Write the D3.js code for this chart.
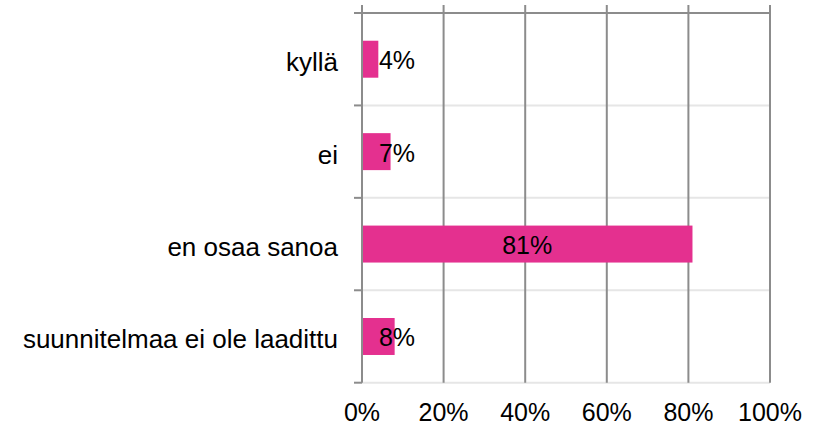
<!DOCTYPE html>
<html>
<head>
<meta charset="utf-8">
<script src="https://cdn.jsdelivr.net/npm/d3@7"></script>
<style>
  body { margin: 0; background: #fff; }
  text { font-family: 'Liberation Sans', Arial, sans-serif; fill: #000; }
</style>
</head>
<body>
<div id="chart"></div>
<script>
// data
const categories = ['kyllä', 'ei', 'en osaa sanoa', 'suunnitelmaa ei ole laadittu'];
const values = [4, 7, 81, 8];
const ticks = [0, 20, 40, 60, 80, 100];

const width = 820;
const height = 426;
const plot = { left: 362, right: 770, top: 13, bottom: 382.7 };
const pink = '#e4308f';

const svg = d3.select('#chart').append('svg')
  .attr('width', width)
  .attr('height', height);

const x = d3.scaleLinear()
  .domain([0, 100])
  .range([plot.left, plot.right]);

const y = d3.scaleBand()
  .domain(categories)
  .range([plot.top, plot.bottom])
  .paddingInner(0.6)
  .paddingOuter(0.3);

// band borders (light separators)
const borders = d3.range(categories.length + 1).map((i) => plot.top + i * y.step());

svg.append('g').selectAll('line')
  .data(borders.slice(1))
  .join('line')
  .attr('x1', plot.left)
  .attr('x2', plot.right)
  .attr('y1', (d) => d)
  .attr('y2', (d) => d)
  .attr('stroke', '#e6e6e6')
  .attr('stroke-width', 2);

// vertical grid
svg.append('g').selectAll('line')
  .data(ticks)
  .join('line')
  .attr('x1', (d) => x(d))
  .attr('x2', (d) => x(d))
  .attr('y1', 5)
  .attr('y2', plot.bottom)
  .attr('stroke', '#8c8c8c')
  .attr('stroke-width', 2);

// top line
svg.append('line')
  .attr('x1', plot.left - 8)
  .attr('x2', plot.right)
  .attr('y1', plot.top)
  .attr('y2', plot.top)
  .attr('stroke', '#8c8c8c')
  .attr('stroke-width', 2);

// small ticks left of the axis
svg.append('g').selectAll('line')
  .data(borders)
  .join('line')
  .attr('x1', plot.left - 8)
  .attr('x2', plot.left)
  .attr('y1', (d) => d)
  .attr('y2', (d) => d)
  .attr('stroke', '#8c8c8c')
  .attr('stroke-width', 2);

// bars
svg.append('g').selectAll('rect')
  .data(values)
  .join('rect')
  .attr('x', x(0) + 1)
  .attr('y', (d, i) => y(categories[i]))
  .attr('width', (d) => x(d) - x(0) - 1)
  .attr('height', y.bandwidth())
  .attr('fill', pink);

// value labels
svg.append('g').selectAll('text')
  .data(values)
  .join('text')
  .attr('x', (d) => Math.max(x(d / 2), x(0) + 35))
  .attr('y', (d, i) => y(categories[i]) + y.bandwidth() / 2)
  .attr('dy', '0.4em')
  .attr('text-anchor', 'middle')
  .style('font-size', '25px')
  .text((d) => `${d}%`);

// category labels
svg.append('g').selectAll('text')
  .data(categories)
  .join('text')
  .attr('x', 338)
  .attr('y', (d) => y(d) + y.bandwidth() / 2)
  .attr('dy', '0.46em')
  .attr('text-anchor', 'end')
  .style('font-size', '26px')
  .text((d) => d);

// x tick labels
svg.append('g').selectAll('text')
  .data(ticks)
  .join('text')
  .attr('x', (d) => x(d))
  .attr('y', 421)
  .attr('text-anchor', 'middle')
  .style('font-size', '25px')
  .text((d) => `${d}%`);
</script>
</body>
</html>
